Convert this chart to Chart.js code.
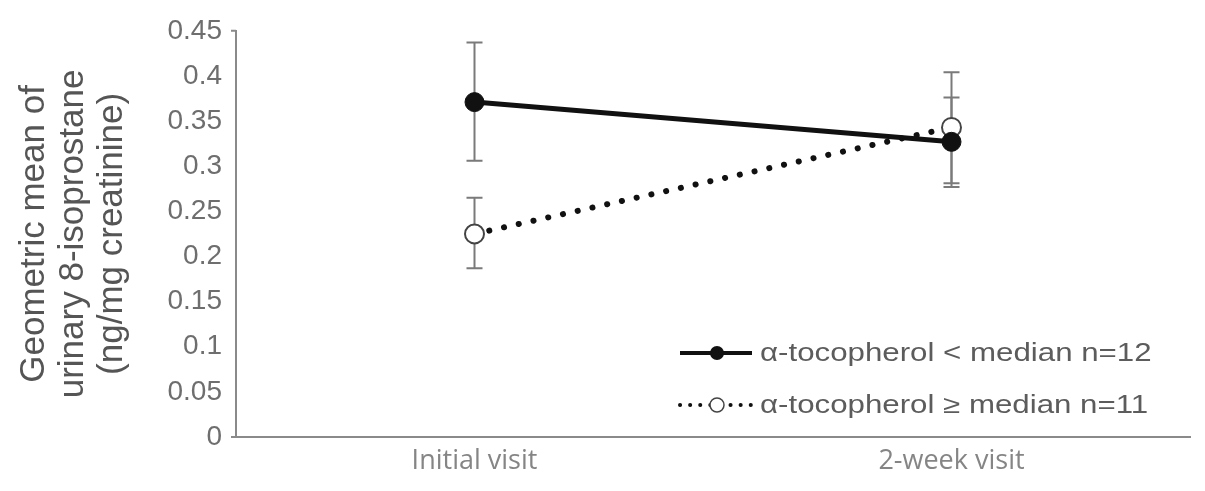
<!DOCTYPE html>
<html>
<head>
<meta charset="utf-8">
<script src="https://cdn.jsdelivr.net/npm/chart.js@4"></script>
<style>
  html, body { margin: 0; padding: 0; background: #fff; }
  #wrap { width: 1205px; height: 491px; }
</style>
</head>
<body>
<div id="wrap"><canvas id="chart"></canvas></div>
<script>
// Data
const visits = ["Initial visit", "2-week visit"];

const belowMean = [0.371, 0.327];
const belowUpper = [0.437, 0.376];
const belowLower = [0.306, 0.277];

const aboveMean = [0.225, 0.343];
const aboveUpper = [0.265, 0.404];
const aboveLower = [0.187, 0.281];

const legendLabels = ["α-tocopherol < median n=12", "α-tocopherol ≥ median n=11"];
const titleLines = ["Geometric mean of", "urinary 8-isoprostane", "(ng/mg creatinine)"];

const errorBars = [
    { upper: belowUpper, lower: belowLower },
    { upper: aboveUpper, lower: aboveLower }
];

// error bars drawn under the markers
const errorBarPlugin = {
    id: 'errorBars',
    beforeDatasetsDraw(chart) {
        const { ctx, scales: { x, y } } = chart;
        ctx.save();
        ctx.strokeStyle = '#7a7a7a';
        ctx.lineWidth = 2;
        errorBars.forEach(eb => {
            visits.forEach((v, i) => {
                const px = x.getPixelForValue(i);
                const top = y.getPixelForValue(eb.upper[i]);
                const bot = y.getPixelForValue(eb.lower[i]);
                ctx.beginPath();
                ctx.moveTo(px, top); ctx.lineTo(px, bot);
                ctx.moveTo(px - 8, top); ctx.lineTo(px + 8, top);
                ctx.moveTo(px - 8, bot); ctx.lineTo(px + 8, bot);
                ctx.stroke();
            });
        });
        ctx.restore();
    }
};

// rotated y title + legend box
const decorPlugin = {
    id: 'decor',
    afterDraw(chart) {
        const { ctx, chartArea } = chart;
        ctx.save();
        // y title
        ctx.fillStyle = '#555';
        ctx.font = '35px "Liberation Sans", Arial, sans-serif';
        ctx.textAlign = 'center';
        ctx.textBaseline = 'middle';
        const cy = (chartArea.top + chartArea.bottom) / 2;
        const xs = [34, 73, 112];
        titleLines.forEach((t, i) => {
            ctx.save();
            ctx.translate(xs[i], cy);
            ctx.rotate(-Math.PI / 2);
            ctx.fillText(t, 0, 0);
            ctx.restore();
        });

        // small end ticks on the y axis
        ctx.strokeStyle = '#8a8a8a';
        ctx.lineWidth = 2;
        ctx.beginPath();
        ctx.moveTo(chartArea.left - 5, chartArea.top); ctx.lineTo(chartArea.left, chartArea.top);
        ctx.moveTo(chartArea.left - 5, chartArea.bottom); ctx.lineTo(chartArea.left, chartArea.bottom);
        ctx.stroke();

        // legend
        const rows = [353, 405];
        const x0 = 680, x1 = 752, mx = 717;
        // solid row
        ctx.strokeStyle = '#111';
        ctx.lineWidth = 4;
        ctx.beginPath(); ctx.moveTo(x0, rows[0]); ctx.lineTo(x1, rows[0]); ctx.stroke();
        ctx.fillStyle = '#111';
        ctx.beginPath(); ctx.arc(mx, rows[0], 7, 0, Math.PI * 2); ctx.fill();
        // dotted row
        ctx.lineWidth = 4;
        ctx.lineCap = 'round';
        ctx.setLineDash([0.1, 10]);
        ctx.beginPath(); ctx.moveTo(x0, rows[1]); ctx.lineTo(x1, rows[1]); ctx.stroke();
        ctx.setLineDash([]);
        ctx.fillStyle = '#fff';
        ctx.strokeStyle = '#444';
        ctx.lineWidth = 1.5;
        ctx.beginPath(); ctx.arc(mx, rows[1], 7, 0, Math.PI * 2); ctx.fill(); ctx.stroke();

        ctx.fillStyle = '#5c5c5c';
        ctx.font = '25px "Liberation Sans", Arial, sans-serif';
        ctx.textAlign = 'left';
        legendLabels.forEach((t, i) => {
            ctx.save();
            ctx.translate(760, rows[i] + 1);
            ctx.scale(1.25, 1);
            ctx.fillText(t, 0, 0);
            ctx.restore();
        });
        ctx.restore();
    }
};

const ctx = document.getElementById('chart').getContext('2d');
new Chart(ctx, {
    type: 'line',
    data: {
        labels: visits,
        datasets: [
            {
                label: legendLabels[0],
                data: belowMean,
                borderColor: '#111',
                backgroundColor: '#111',
                borderWidth: 5,
                pointRadius: 9.5,
                pointBorderWidth: 1,
                pointBackgroundColor: '#111',
                pointBorderColor: '#111',
                tension: 0
            },
            {
                label: legendLabels[1],
                data: aboveMean,
                borderColor: '#111',
                borderWidth: 6,
                borderDash: [0.1, 15],
                borderCapStyle: 'round',
                pointRadius: 9.5,
                pointBorderWidth: 2,
                pointBackgroundColor: '#fff',
                pointBorderColor: '#444',
                tension: 0
            }
        ]
    },
    options: {
        responsive: true,
        maintainAspectRatio: false,
        animation: false,
        layout: { padding: { top: 25, right: 15, left: 0, bottom: 0 } },
        scales: {
            x: {
                offset: true,
                grid: { display: false, drawTicks: false },
                border: { display: true, color: '#8a8a8a', width: 2 },
                ticks: {
                    color: '#858585',
                    padding: 8,
                    font: { family: '"Open Sans", sans-serif', size: 27 }
                },
                afterFit(scale) { scale.height = 54; }
            },
            y: {
                min: 0,
                max: 0.45,
                grid: { display: false, drawTicks: false },
                border: { display: true, color: '#8a8a8a', width: 2 },
                ticks: {
                    stepSize: 0.05,
                    color: '#6e6e6e',
                    padding: 14,
                    font: { family: '"Liberation Sans", Arial, sans-serif', size: 28 },
                    callback: v => String(+v.toFixed(2))
                },
                afterFit(scale) { scale.width = 236; }
            }
        },
        plugins: {
            legend: { display: false },
            tooltip: { enabled: false }
        }
    },
    plugins: [errorBarPlugin, decorPlugin]
});
</script>
</body>
</html>
